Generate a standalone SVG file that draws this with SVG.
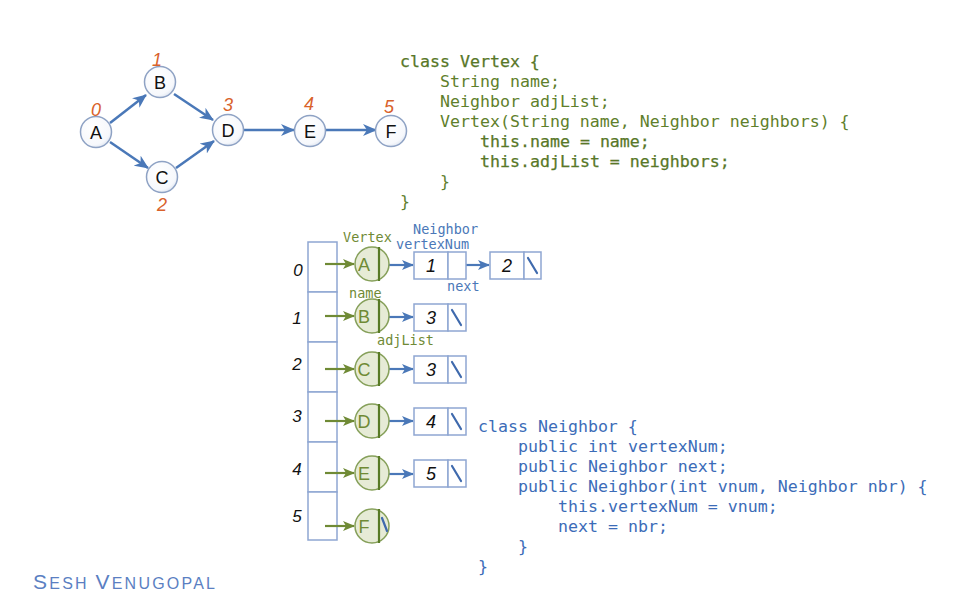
<svg xmlns="http://www.w3.org/2000/svg" width="959" height="596" viewBox="0 0 959 596">
  <defs>
    <marker id="ahBlue" markerUnits="userSpaceOnUse" markerWidth="14" markerHeight="12" refX="13" refY="6" orient="auto">
      <path d="M0,0 L14,6 L0,12 L4,6 Z" fill="#4a78b8"/>
    </marker>
    <marker id="ahBlueSm" markerUnits="userSpaceOnUse" markerWidth="12" markerHeight="10" refX="11" refY="5" orient="auto">
      <path d="M0,0 L12,5 L0,10 L3,5 Z" fill="#4a78b8"/>
    </marker>
    <marker id="ahGreen" markerUnits="userSpaceOnUse" markerWidth="12" markerHeight="10" refX="11" refY="5" orient="auto">
      <path d="M0,0 L12,5 L0,10 L3,5 Z" fill="#6f8a35"/>
    </marker>
    <radialGradient id="nodeFill" cx="0.4" cy="0.35" r="0.7">
      <stop offset="0" stop-color="#ffffff"/>
      <stop offset="0.8" stop-color="#f6f8fc"/>
      <stop offset="1" stop-color="#dde4f0"/>
    </radialGradient>
  </defs>
  <style>
    .gnode { fill: url(#nodeFill); stroke: #8ea2c4; stroke-width: 1.5; }
    .glabel { font-family: "Liberation Sans", Arial, sans-serif; font-size: 18px; fill: #111; text-anchor: middle; }
    .gidx { font-family: "Liberation Sans", Arial, sans-serif; font-size: 18px; font-style: italic; fill: #d9622b; text-anchor: middle; }
    .gedge { stroke: #4a78b8; stroke-width: 2.5; fill: none; marker-end: url(#ahBlue); }
    .vcode { font-family: "DejaVu Sans Mono", "Liberation Mono", monospace; font-size: 16.6px; fill: #5f7f2c; white-space: pre; }
    .vstrong { fill: #587728; stroke: #587728; stroke-width: 0.25; }
    .ncode { font-family: "DejaVu Sans Mono", "Liberation Mono", monospace; font-size: 16.6px; fill: #3c6cb8; white-space: pre; }
    .cell { fill: #ffffff; stroke: #8fa6d2; stroke-width: 1.5; }
    .idx { font-family: "Liberation Sans", Arial, sans-serif; font-size: 17px; font-style: italic; fill: #111; text-anchor: middle; }
    .vtx { fill: #e6ebd6; stroke: #86a05a; stroke-width: 1.5; }
    .vdiv { stroke: #587a25; stroke-width: 2.2; }
    .vname { font-family: "Liberation Sans", Arial, sans-serif; font-size: 18px; fill: #6f8a35; text-anchor: middle; }
    .garrow { stroke: #6f8a35; stroke-width: 2.2; fill: none; marker-end: url(#ahGreen); }
    .barrow { stroke: #4a78b8; stroke-width: 2.2; fill: none; marker-end: url(#ahBlueSm); }
    .nbox { fill: #ffffff; stroke: #8fa6d2; stroke-width: 1.5; }
    .nval { font-family: "Liberation Sans", Arial, sans-serif; font-size: 18px; font-style: italic; fill: #111; text-anchor: middle; }
    .nil { stroke: #3f6aad; stroke-width: 2.2; stroke-linecap: round; }
    .lblG { font-family: "DejaVu Sans Mono", "Liberation Mono", monospace; font-size: 13.5px; fill: #6f8a35; }
    .lblB { font-family: "DejaVu Sans Mono", "Liberation Mono", monospace; font-size: 13.5px; fill: #4a78b8; }
  </style>

  <rect width="959" height="596" fill="#ffffff"/>

  <!-- graph edges -->
  <g id="graph-edges">
    <path class="gedge" d="M110,123 L146,95"/>
    <path class="gedge" d="M174,94 L213,120"/>
    <path class="gedge" d="M110,142 L148,168"/>
    <path class="gedge" d="M176,168 L214,141"/>
    <path class="gedge" d="M244,130 L294,130"/>
    <path class="gedge" d="M326,130 L376,130"/>
  </g>

  <!-- graph vertices -->
  <g id="gA"><circle class="gnode" cx="96" cy="132" r="15.5"/><text class="glabel" x="96" y="139">A</text><text class="gidx" x="96" y="116">0</text></g>
  <g id="gB"><circle class="gnode" cx="160" cy="82" r="15.5"/><text class="glabel" x="160" y="89">B</text><text class="gidx" x="157" y="66">1</text></g>
  <g id="gC"><circle class="gnode" cx="162" cy="177" r="15.5"/><text class="glabel" x="162" y="184">C</text><text class="gidx" x="162" y="211">2</text></g>
  <g id="gD"><circle class="gnode" cx="228" cy="130" r="15.5"/><text class="glabel" x="228" y="137">D</text><text class="gidx" x="228" y="111">3</text></g>
  <g id="gE"><circle class="gnode" cx="310" cy="131" r="15.5"/><text class="glabel" x="310" y="138">E</text><text class="gidx" x="309" y="110">4</text></g>
  <g id="gF"><circle class="gnode" cx="391" cy="131" r="15.5"/><text class="glabel" x="391" y="138">F</text><text class="gidx" x="389" y="113">5</text></g>

  <!-- class Vertex -->
  <g id="vertex-code">
    <text class="vcode vstrong" x="400" y="67">class Vertex {</text>
    <text class="vcode" x="440" y="87">String name;</text>
    <text class="vcode" x="440" y="107">Neighbor adjList;</text>
    <text class="vcode" x="440" y="127">Vertex(String name, Neighbor neighbors) {</text>
    <text class="vcode vstrong" x="480" y="147">this.name = name;</text>
    <text class="vcode vstrong" x="480" y="167">this.adjList = neighbors;</text>
    <text class="vcode" x="440" y="187">}</text>
    <text class="vcode" x="400" y="207">}</text>
  </g>

  <!-- adjacency array -->
  <g id="array">
    <rect class="cell" x="308" y="242" width="29" height="50"/>
    <rect class="cell" x="308" y="292" width="29" height="50"/>
    <rect class="cell" x="308" y="342" width="29" height="50"/>
    <rect class="cell" x="308" y="392" width="29" height="50"/>
    <rect class="cell" x="308" y="442" width="29" height="50"/>
    <rect class="cell" x="308" y="492" width="29" height="48"/>
    <text class="idx" x="298" y="276">0</text>
    <text class="idx" x="297" y="324">1</text>
    <text class="idx" x="297" y="370">2</text>
    <text class="idx" x="297" y="422">3</text>
    <text class="idx" x="297" y="475">4</text>
    <text class="idx" x="297" y="522">5</text>
  </g>

  <!-- field labels -->
  <g id="labels">
    <text class="lblG" x="343" y="242">Vertex</text>
    <text class="lblB" x="413" y="234">Neighbor</text>
    <text class="lblB" x="396" y="249">vertexNum</text>
    <text class="lblB" x="447" y="291">next</text>
    <text class="lblG" x="349" y="298">name</text>
    <text class="lblG" x="377" y="345">adjList</text>
  </g>

  <!-- connectors of the adjacency lists -->
  <g id="connectors">
    <path class="garrow" d="M325,264 L354,264"/>
    <path class="garrow" d="M325,316 L354,316"/>
    <path class="garrow" d="M325,369 L354,369"/>
    <path class="garrow" d="M325,421 L354,421"/>
    <path class="garrow" d="M325,473 L354,473"/>
    <path class="garrow" d="M325,526 L354,526"/>
    <path class="barrow" d="M381,265 L413,265"/>
    <path class="barrow" d="M458,265 L489,265"/>
    <path class="barrow" d="M381,317 L413,317"/>
    <path class="barrow" d="M381,369 L413,369"/>
    <path class="barrow" d="M381,421 L413,421"/>
    <path class="barrow" d="M381,474 L413,474"/>
  </g>

  <!-- vertex records -->
  <g id="vA"><ellipse class="vtx" cx="372" cy="264" rx="17" ry="17"/><line class="vdiv" x1="379" y1="247" x2="379" y2="281"/><text class="vname" x="364" y="271">A</text></g>
  <g id="vB"><ellipse class="vtx" cx="372" cy="316" rx="17" ry="17"/><line class="vdiv" x1="379" y1="299" x2="379" y2="333"/><text class="vname" x="364" y="323">B</text></g>
  <g id="vC"><ellipse class="vtx" cx="372" cy="369" rx="17" ry="17"/><line class="vdiv" x1="379" y1="352" x2="379" y2="386"/><text class="vname" x="364" y="376">C</text></g>
  <g id="vD"><ellipse class="vtx" cx="372" cy="421" rx="17" ry="17"/><line class="vdiv" x1="379" y1="404" x2="379" y2="438"/><text class="vname" x="364" y="428">D</text></g>
  <g id="vE"><ellipse class="vtx" cx="372" cy="473" rx="17" ry="17"/><line class="vdiv" x1="379" y1="456" x2="379" y2="490"/><text class="vname" x="364" y="480">E</text></g>
  <g id="vF"><ellipse class="vtx" cx="372" cy="526" rx="17" ry="17"/><line class="vdiv" x1="379" y1="509" x2="379" y2="543"/><text class="vname" x="364" y="533">F</text><line class="nil" x1="382" y1="518" x2="387" y2="531"/></g>

  <!-- neighbor records -->
  <g id="n0a"><rect class="nbox" x="414" y="252" width="34" height="27"/><rect class="nbox" x="448" y="252" width="18" height="27"/><text class="nval" x="431" y="272">1</text></g>
  <g id="n0b"><rect class="nbox" x="490" y="252" width="34" height="27"/><rect class="nbox" x="524" y="252" width="17" height="27"/><text class="nval" x="507" y="272">2</text><line class="nil" x1="528" y1="258" x2="537" y2="273"/></g>
  <g id="n1"><rect class="nbox" x="414" y="304" width="34" height="27"/><rect class="nbox" x="448" y="304" width="18" height="27"/><text class="nval" x="431" y="324">3</text><line class="nil" x1="452" y1="310" x2="461" y2="325"/></g>
  <g id="n2"><rect class="nbox" x="414" y="356" width="34" height="27"/><rect class="nbox" x="448" y="356" width="18" height="27"/><text class="nval" x="431" y="376">3</text><line class="nil" x1="452" y1="362" x2="461" y2="377"/></g>
  <g id="n3"><rect class="nbox" x="414" y="408" width="34" height="27"/><rect class="nbox" x="448" y="408" width="18" height="27"/><text class="nval" x="431" y="428">4</text><line class="nil" x1="452" y1="414" x2="461" y2="429"/></g>
  <g id="n4"><rect class="nbox" x="414" y="460" width="34" height="27"/><rect class="nbox" x="448" y="460" width="18" height="27"/><text class="nval" x="431" y="480">5</text><line class="nil" x1="452" y1="466" x2="461" y2="481"/></g>

  <!-- class Neighbor -->
  <g id="neighbor-code">
    <text class="ncode" x="478" y="432">class Neighbor {</text>
    <text class="ncode" x="518" y="452">public int vertexNum;</text>
    <text class="ncode" x="518" y="472">public Neighbor next;</text>
    <text class="ncode" x="518" y="492">public Neighbor(int vnum, Neighbor nbr) {</text>
    <text class="ncode" x="558" y="512">this.vertexNum = vnum;</text>
    <text class="ncode" x="558" y="532">next = nbr;</text>
    <text class="ncode" x="518" y="552">}</text>
    <text class="ncode" x="478" y="572">}</text>
  </g>

  <!-- author -->
  <text x="33" y="589" textLength="182" lengthAdjust="spacing" font-family="'Liberation Sans', Arial, sans-serif" fill="#5b7fc2"><tspan font-size="21">S</tspan><tspan font-size="16">ESH </tspan><tspan font-size="21">V</tspan><tspan font-size="16">ENUGOPAL</tspan></text>
</svg>
